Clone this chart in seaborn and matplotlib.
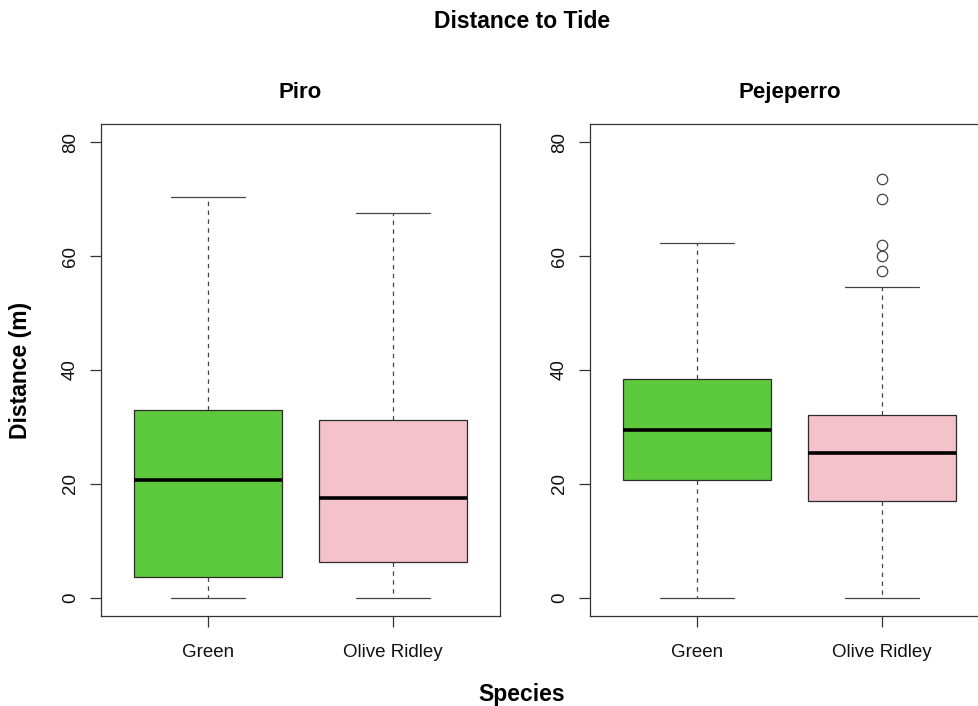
import matplotlib
matplotlib.use("Agg")
import matplotlib.pyplot as plt
import seaborn as sns
import pandas as pd

# ---- data (five-number summaries + outliers) ----
species = ["Green", "Olive Ridley"]
box_colors = ["#5DC93D", "#F4C2CB"]

piro_lower = [0.0, 0.0]
piro_q1 = [3.7, 6.2]
piro_median = [20.6, 17.5]
piro_q3 = [33.0, 31.2]
piro_upper = [70.3, 67.6]
piro_outliers = [[], []]

pej_lower = [0.0, 0.0]
pej_q1 = [20.7, 17.0]
pej_median = [29.4, 25.4]
pej_q3 = [38.5, 32.1]
pej_upper = [62.3, 54.5]
pej_outliers = [[], [57.4, 60.0, 62.0, 70.0, 73.6]]

y_ticks = [0, 20, 40, 60, 80]


def sample_from_summary(lo, q1, med, q3, hi, outs):
    """Rebuild a small sample whose quartiles/whiskers equal the read values."""
    n_tail = 1 + len(outs)
    k = n_tail + 1
    return ([lo] * n_tail + [q1] * k + [med] + [q3] * k + [hi] + list(outs))


def build_frame(lower, q1, med, q3, upper, outliers):
    rows = []
    for i, sp in enumerate(species):
        for v in sample_from_summary(lower[i], q1[i], med[i], q3[i], upper[i], outliers[i]):
            rows.append({"species": sp, "distance": v})
    return pd.DataFrame(rows)


piro_df = build_frame(piro_lower, piro_q1, piro_median, piro_q3, piro_upper, piro_outliers)
pej_df = build_frame(pej_lower, pej_q1, pej_median, pej_q3, pej_upper, pej_outliers)

sns.set_theme(style="white")
plt.rcParams["font.family"] = ["Liberation Sans", "DejaVu Sans"]
plt.rcParams["lines.scale_dashes"] = False
plt.rcParams["text.color"] = "black"
plt.rcParams["axes.titlecolor"] = "black"

fig = plt.figure(figsize=(9.79, 7.06), dpi=100)
W, H = 979.0, 706.0
ax_bottom = 1 - 616 / H
ax_height = (616 - 124) / H
ax_width = 399 / W
ax1 = fig.add_axes([101 / W, ax_bottom, ax_width, ax_height])
ax2 = fig.add_axes([590 / W, ax_bottom, ax_width, ax_height])

line_col = "#2b2b2b"
for ax, df, title in [(ax1, piro_df, "Piro"), (ax2, pej_df, "Pejeperro")]:
    sns.boxplot(
        data=df, x="species", y="distance", hue="species", order=species,
        hue_order=species, palette=box_colors, saturation=1, width=0.8,
        whis=1.5, linecolor=line_col, linewidth=0.9, legend=False, ax=ax,
        medianprops=dict(color="black", linewidth=2.6),
        whiskerprops=dict(linestyle=(0, (3.2, 3.2)), color="#444444", linewidth=0.9),
        capprops=dict(color="#444444", linewidth=0.9),
        flierprops=dict(marker="o", markerfacecolor="none", markeredgecolor="#444444",
                        markersize=7.5, markeredgewidth=0.9),
    )
    ax.set_xlim(-0.58, 1.58)
    ax.set_ylim(-3.2, 83.2)
    ax.set_yticks(y_ticks)
    ax.set_yticklabels([str(t) for t in y_ticks], rotation=90, va="center")
    ax.set_xlabel("")
    ax.set_ylabel("")
    ax.set_title(title, fontsize=16, fontweight="bold", pad=19, color="black")
    for s in ax.spines.values():
        s.set_visible(True)
        s.set_color("#333333")
        s.set_linewidth(0.9)
    ax.tick_params(axis="both", which="major", direction="out", length=8,
                   width=0.9, color="#333333", labelsize=13.5, labelcolor="#111111",
                   bottom=True, left=True)
    ax.tick_params(axis="y", pad=8)
    ax.tick_params(axis="x", pad=12)

fig.text(522 / W, 1 - 21 / H, "Distance to Tide", ha="center", va="center",
         fontsize=16.5, fontweight="bold", color="black")
fig.text(522 / W, 1 - 694 / H, "Species", ha="center", va="center",
         fontsize=16.5, fontweight="bold", color="black")
fig.text(21 / W, 1 - 370 / H, "Distance (m)", ha="center", va="center",
         rotation=90, fontsize=16.5, fontweight="bold", color="black")

fig.savefig("out.png", dpi=100)
